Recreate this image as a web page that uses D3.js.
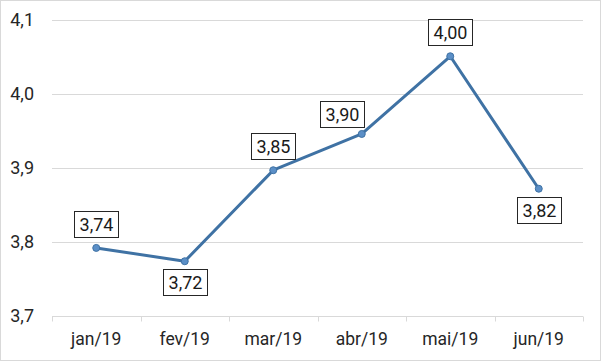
<!DOCTYPE html>
<html>
<head>
<meta charset="utf-8">
<script src="https://cdn.jsdelivr.net/npm/d3@7"></script>
<style>
  body { margin: 0; background: #fff; }
  svg { display: block; font-family: Roboto, "Liberation Sans", sans-serif; }
</style>
</head>
<body>
<div id="chart"></div>
<script>
const months = ["jan/19", "fev/19", "mar/19", "abr/19", "mai/19", "jun/19"];
const values = [3.792, 3.774, 3.897, 3.946, 4.051, 3.872];
const labels = ["3,74", "3,72", "3,85", "3,90", "4,00", "3,82"];
const labelSide = ["above", "below", "above", "aboveLeft", "above", "below"];
const yTicks = [3.7, 3.8, 3.9, 4.0, 4.1];

const width = 601, height = 361;
const margin = { top: 20, right: 18, bottom: 45, left: 52 };

const svg = d3.select("#chart").append("svg")
  .attr("width", width)
  .attr("height", height);

// outer frame
svg.append("rect")
  .attr("x", 0.5).attr("y", 0.5)
  .attr("width", width - 1).attr("height", height - 1)
  .attr("fill", "#fff")
  .attr("stroke", "#d9d9d9");

const x = d3.scaleBand()
  .domain(months)
  .range([margin.left, width - margin.right]);

const y = d3.scaleLinear()
  .domain([3.7, 4.1])
  .range([height - margin.bottom, margin.top]);

const fmt = (d) => d.toFixed(1).replace(".", ",");

// gridlines
svg.append("g")
  .selectAll("line")
  .data(yTicks.slice(1))
  .enter()
  .append("line")
  .attr("x1", margin.left)
  .attr("x2", width - margin.right)
  .attr("y1", (d) => Math.round(y(d)) + 0.5)
  .attr("y2", (d) => Math.round(y(d)) + 0.5)
  .attr("stroke", "#d9d9d9");

// y labels
svg.append("g")
  .selectAll("text")
  .data(yTicks)
  .enter()
  .append("text")
  .attr("x", 34)
  .attr("y", (d) => y(d))
  .attr("dy", "0.35em")
  .attr("text-anchor", "end")
  .attr("font-size", 18)
  .attr("fill", "#262626")
  .text(fmt);

// x axis
const xAxis = svg.append("g")
  .attr("transform", `translate(0,${Math.round(y(3.7)) + 0.5})`);
xAxis.append("line")
  .attr("x1", margin.left)
  .attr("x2", width - margin.right)
  .attr("stroke", "#d9d9d9");
const boundaries = months.map((m) => x(m)).concat([width - margin.right]);
xAxis.selectAll(".tick")
  .data(boundaries)
  .enter()
  .append("line")
  .attr("class", "tick")
  .attr("x1", (d) => Math.round(d) + 0.5)
  .attr("x2", (d) => Math.round(d) + 0.5)
  .attr("y1", 0)
  .attr("y2", 5)
  .attr("stroke", "#d9d9d9");
xAxis.selectAll("text")
  .data(months)
  .enter()
  .append("text")
  .attr("x", (d) => x(d) + x.bandwidth() / 2)
  .attr("y", 28)
  .attr("text-anchor", "middle")
  .attr("font-size", 17.5)
  .attr("fill", "#262626")
  .text((d) => d);

const cx = (i) => x(months[i]) + x.bandwidth() / 2;

// line
const line = d3.line()
  .x((d, i) => cx(i))
  .y((d) => y(d));

svg.append("path")
  .datum(values)
  .attr("d", line)
  .attr("fill", "none")
  .attr("stroke", "#3f72a4")
  .attr("stroke-width", 3)
  .attr("stroke-linejoin", "round");

svg.append("g")
  .selectAll("circle")
  .data(values)
  .enter()
  .append("circle")
  .attr("cx", (d, i) => cx(i))
  .attr("cy", (d) => y(d))
  .attr("r", 3.5)
  .attr("fill", "#5b8fc7")
  .attr("stroke", "#3f72a4")
  .attr("stroke-width", 1);

// data labels
const boxW = 44, boxH = 26;
const lbl = svg.append("g")
  .selectAll("g")
  .data(values)
  .enter()
  .append("g")
  .attr("transform", (d, i) => {
    let bx = cx(i) - boxW / 2;
    let by = y(d) - boxH - 11;
    if (labelSide[i] === "below") by = y(d) + 8;
    if (labelSide[i] === "aboveLeft") { bx -= 20; by = y(d) - boxH - 7; }
    return `translate(${Math.round(bx) + 0.5},${Math.round(by) + 0.5})`;
  });

lbl.append("rect")
  .attr("width", boxW)
  .attr("height", boxH)
  .attr("fill", "#fff")
  .attr("stroke", "#262626")
  .attr("stroke-width", 1);

lbl.append("text")
  .attr("x", boxW / 2)
  .attr("y", boxH / 2)
  .attr("dy", "0.36em")
  .attr("text-anchor", "middle")
  .attr("font-size", 18)
  .attr("fill", "#1a1a1a")
  .text((d, i) => labels[i]);
</script>
</body>
</html>
